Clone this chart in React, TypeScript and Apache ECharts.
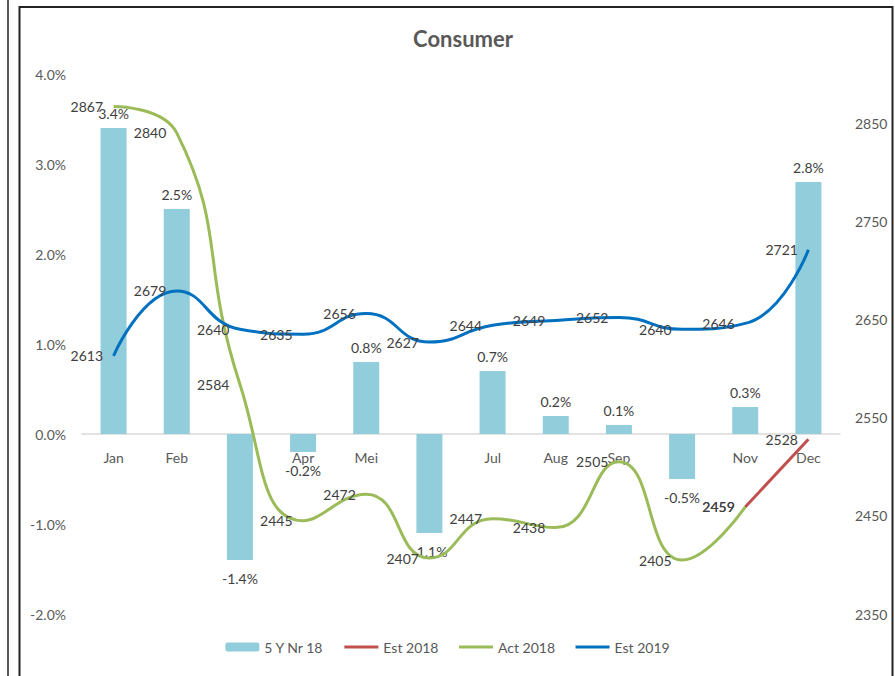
import React, { useEffect, useRef } from "react";
import * as echarts from "echarts";

const months = ["Jan", "Feb", "Mar", "Apr", "Mei", "Jun", "Jul", "Aug", "Sep", "Oct", "Nov", "Dec"];
const fiveYr = [3.4, 2.5, -1.4, -0.2, 0.8, -1.1, 0.7, 0.2, 0.1, -0.5, 0.3, 2.8];
const est2018 = [null, null, null, null, null, null, null, null, null, null, 2459, 2528];
const act2018 = [2867, 2840, 2584, 2445, 2472, 2407, 2447, 2438, 2505, 2405, 2459, null];
const est2019 = [2613, 2679, 2640, 2635, 2656, 2627, 2644, 2649, 2652, 2640, 2646, 2721];

const FONT = "Lato, 'Open Sans', sans-serif";
const GRAY = "#595959";
const LABEL = "#404040";

export default function App() {
  const ref = useRef<HTMLDivElement>(null);
  useEffect(() => {
    if (!ref.current) return;
    const chart = echarts.init(ref.current, undefined, { renderer: "svg" });
    const lineLabel = {
      show: true,
      position: "left" as const,
      distance: 10,
      color: LABEL,
      fontSize: 14,
      fontFamily: FONT,
    };
    const hiddenDot = { color: "rgba(0,0,0,0)", borderWidth: 0 };
    chart.setOption({
      animation: false,
      backgroundColor: "#fff",
      textStyle: { fontFamily: FONT },
      title: {
        text: "Consumer",
        left: 458,
        textAlign: "center",
        top: 22,
        textStyle: { fontSize: 22, fontWeight: "bold", color: GRAY, fontFamily: FONT },
      },
      graphic: [
        { type: "line", shape: { x1: 8, y1: 0, x2: 8, y2: 676 }, style: { stroke: "#222", lineWidth: 1.5 } },
        { type: "rect", shape: { x: 19.5, y: 7, width: 873, height: 680 }, style: { fill: "none", stroke: "#222", lineWidth: 2 } },
      ],
      legend: {
        bottom: 17,
        left: "center",
        itemGap: 19,
        itemWidth: 34,
        itemHeight: 9,
        textStyle: { color: GRAY, fontSize: 14, fontFamily: FONT },
        data: [
          { name: "5 Y Nr 18" },
          { name: "Est 2018", itemStyle: { opacity: 0 }, lineStyle: { width: 3 } },
          { name: "Act 2018", itemStyle: { opacity: 0 }, lineStyle: { width: 3 } },
          { name: "Est 2019", itemStyle: { opacity: 0 }, lineStyle: { width: 3 } },
        ],
      },
      grid: { left: 82, right: 55, top: 74, bottom: 62 },
      xAxis: {
        type: "category",
        data: months,
        offset: -180,
        axisLine: { onZero: false, lineStyle: { color: "#D9D9D9", width: 1.5 } },
        axisTick: { show: false },
        axisLabel: { color: GRAY, fontSize: 14, margin: 16, fontFamily: FONT },
      },
      yAxis: [
        {
          type: "value",
          min: -2,
          max: 4,
          interval: 1,
          splitLine: { show: false },
          axisLine: { show: false },
          axisTick: { show: false },
          axisLabel: {
            color: GRAY,
            fontSize: 14,
            margin: 16,
            fontFamily: FONT,
            formatter: (v: number) => v.toFixed(1) + "%",
          },
        },
        {
          type: "value",
          min: 2350,
          max: 2900,
          interval: 50,
          splitLine: { show: false },
          axisLine: { show: false },
          axisTick: { show: false },
          axisLabel: {
            color: GRAY,
            fontSize: 14,
            margin: 15,
            fontFamily: FONT,
            formatter: (v: number) => ((v - 2350) % 100 === 0 && v < 2900 ? String(v) : ""),
          },
        },
      ],
      series: [
        {
          name: "5 Y Nr 18",
          type: "bar",
          yAxisIndex: 0,
          barWidth: 26,
          itemStyle: { color: "#92CDDC" },
          data: fiveYr.map((v) => ({
            value: v,
            label: { position: v < 0 ? "bottom" : "top", distance: v < 0 ? 11 : 8 },
          })),
          label: {
            show: true,
            color: LABEL,
            fontSize: 14,
            fontFamily: FONT,
            formatter: (p: any) => Number(p.value).toFixed(1) + "%",
          },
        },
        {
          name: "Est 2018",
          type: "line",
          yAxisIndex: 1,
          symbol: "circle",
          symbolSize: 1,
          showSymbol: true,
          lineStyle: { color: "#C0504D", width: 3 },
          itemStyle: hiddenDot,
          data: est2018,
          label: lineLabel,
          z: 3,
        },
        {
          name: "Act 2018",
          type: "line",
          yAxisIndex: 1,
          symbol: "circle",
          symbolSize: 1,
          showSymbol: true,
          smooth: 0.5,
          lineStyle: { color: "#9BBB59", width: 3 },
          itemStyle: hiddenDot,
          data: act2018,
          label: lineLabel,
          z: 4,
        },
        {
          name: "Est 2019",
          type: "line",
          yAxisIndex: 1,
          symbol: "circle",
          symbolSize: 1,
          showSymbol: true,
          smooth: 0.5,
          lineStyle: { color: "#0070C0", width: 3 },
          itemStyle: hiddenDot,
          data: est2019,
          label: lineLabel,
          z: 5,
        },
      ],
    });
    return () => chart.dispose();
  }, []);
  return (
    <div
      ref={ref}
      style={{ position: "absolute", left: 0, top: 0, width: 895, height: 676 }}
    />
  );
}
